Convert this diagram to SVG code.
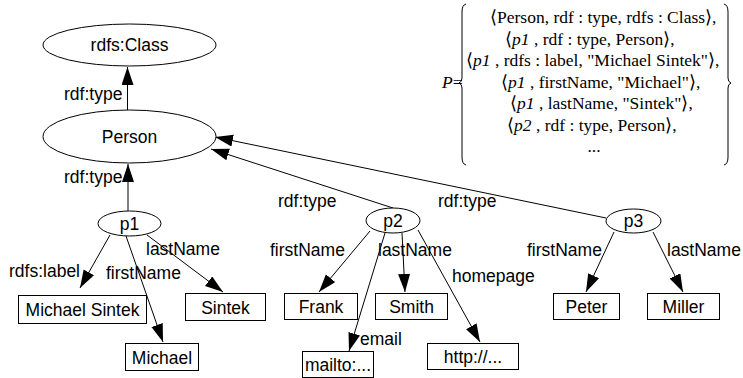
<svg xmlns="http://www.w3.org/2000/svg" width="743" height="378" viewBox="0 0 743 378">
<defs>
<marker id="ah" markerUnits="userSpaceOnUse" markerWidth="19" markerHeight="13" refX="18" refY="6" orient="auto">
<path d="M0,0 L18,6 L0,12 z" fill="#000"/>
</marker>
<style>
.n{fill:#fff;stroke:#000;stroke-width:1}
.t{font-family:"Liberation Sans",Arial,sans-serif;font-size:17.5px;fill:#000}
.c{text-anchor:middle}
.e line{stroke:#000;stroke-width:1;marker-end:url(#ah)}
.f{font-family:"Liberation Serif","Times New Roman",serif;font-size:17.5px;fill:#000}
.i{font-style:italic}
.br{fill:none;stroke:#000;stroke-width:1}
</style>
</defs>
<rect width="743" height="378" fill="#fff"/>
<g id="edges" class="e">
<line x1="127.5" y1="110" x2="127.5" y2="67"/>
<line x1="128" y1="211" x2="128" y2="164"/>
<line x1="393" y1="208" x2="211" y2="149"/>
<line x1="606" y1="218" x2="215" y2="137"/>
<line x1="110" y1="235" x2="80" y2="288"/>
<line x1="126" y1="236" x2="163" y2="342"/>
<line x1="147" y1="235" x2="223" y2="292"/>
<line x1="370" y1="231" x2="319" y2="292"/>
<line x1="385" y1="233" x2="349" y2="351"/>
<line x1="402" y1="233" x2="405" y2="292"/>
<line x1="418" y1="230" x2="480" y2="342"/>
<line x1="614" y1="232" x2="586" y2="292"/>
<line x1="653" y1="232" x2="683" y2="292"/>
</g>
<g id="edge-labels" class="t">
<text x="64" y="100">rdf:type</text>
<text x="64" y="183">rdf:type</text>
<text x="278" y="207">rdf:type</text>
<text x="438" y="207">rdf:type</text>
<text x="9" y="277">rdfs:label</text>
<text x="106" y="279">firstName</text>
<text x="146" y="255">lastName</text>
<text x="270" y="256">firstName</text>
<text x="378" y="256">lastName</text>
<text x="452" y="282">homepage</text>
<text x="360" y="345">email</text>
<text x="527" y="256">firstName</text>
<text x="667" y="256">lastName</text>
</g>
<g id="rdfsClass"><ellipse class="n" cx="129.5" cy="45" rx="86.5" ry="21"/><text class="t c" x="129.5" y="51">rdfs:Class</text></g>
<g id="Person"><ellipse class="n" cx="129.5" cy="136.5" rx="86.5" ry="26.5"/><text class="t c" x="129.5" y="143">Person</text></g>
<g id="p1"><ellipse class="n" cx="129.5" cy="223.5" rx="31.5" ry="12.5"/><text class="t c" x="129.5" y="229.5">p1</text></g>
<g id="p2"><ellipse class="n" cx="393" cy="220.5" rx="27" ry="12.5"/><text class="t c" x="393" y="226.5">p2</text></g>
<g id="p3"><ellipse class="n" cx="633.5" cy="221" rx="27.5" ry="12"/><text class="t c" x="633.5" y="227">p3</text></g>
<g id="MichaelSintek"><rect class="n" x="18.5" y="295.5" width="128" height="28"/><text class="t c" x="82.5" y="316">Michael Sintek</text></g>
<g id="Sintek"><rect class="n" x="185.5" y="293.5" width="80" height="27"/><text class="t c" x="225.5" y="313.5">Sintek</text></g>
<g id="Michael"><rect class="n" x="125.5" y="343.5" width="73" height="27"/><text class="t c" x="162" y="363.5">Michael</text></g>
<g id="Frank"><rect class="n" x="284.5" y="293.5" width="73" height="26"/><text class="t c" x="321" y="313">Frank</text></g>
<g id="Smith"><rect class="n" x="375.5" y="293.5" width="72" height="26"/><text class="t c" x="411.5" y="313">Smith</text></g>
<g id="mailto"><rect class="n" x="302.5" y="351.5" width="71" height="26"/><text class="t c" x="338" y="371">mailto:...</text></g>
<g id="http"><rect class="n" x="427.5" y="343.5" width="91" height="26"/><text class="t c" x="473" y="363">http://...</text></g>
<g id="Peter"><rect class="n" x="553.5" y="293.5" width="66" height="26"/><text class="t c" x="586.5" y="313">Peter</text></g>
<g id="Miller"><rect class="n" x="647.5" y="293.5" width="72" height="26"/><text class="t c" x="683.5" y="313">Miller</text></g>
<g id="formula">
<text class="f" x="442" y="87.5"><tspan class="i">P</tspan>=</text>
<path class="br" d="M466,4 Q462,5 462,12 L462,78 Q462,82 459,83 Q462,84 462,88 L462,157 Q462,164 466,165"/>
<path class="br" d="M724,4 Q728,5 728,12 L728,78 Q728,82 731,83 Q728,84 728,88 L728,157 Q728,164 724,165"/>
<text class="f" x="490" y="23">⟨Person, rdf : type, rdfs : Class⟩,</text>
<text class="f" x="505" y="44.5">⟨<tspan class="i">p1</tspan> , rdf : type, Person⟩,</text>
<text class="f" x="466" y="66">⟨<tspan class="i">p1</tspan> , rdfs : label, "Michael Sintek"⟩,</text>
<text class="f" x="501" y="87.5">⟨<tspan class="i">p1</tspan> , firstName, "Michael"⟩,</text>
<text class="f" x="510" y="109">⟨<tspan class="i">p1</tspan> , lastName, "Sintek"⟩,</text>
<text class="f" x="507" y="130.5">⟨<tspan class="i">p2</tspan> , rdf : type, Person⟩,</text>
<text class="f" x="594" y="152" text-anchor="middle">...</text>
</g>
</svg>
